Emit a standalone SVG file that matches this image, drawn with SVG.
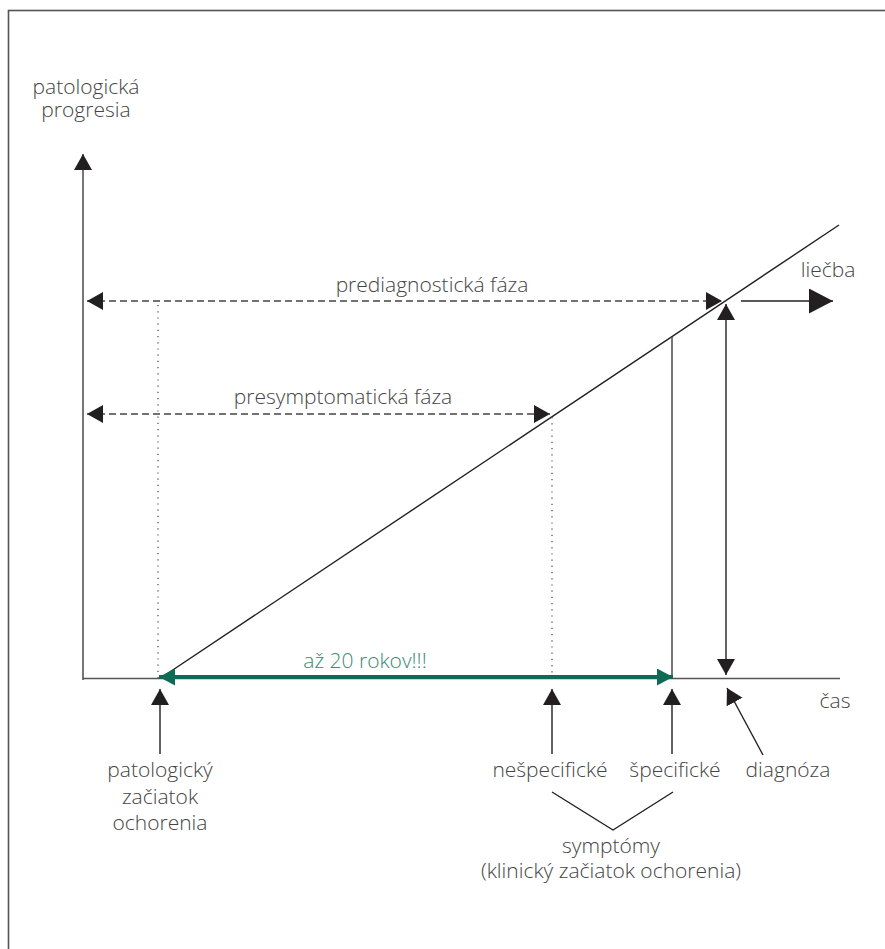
<svg xmlns="http://www.w3.org/2000/svg" width="885" height="949" viewBox="0 0 885 949">
<defs>
<style>
text{font-family:"Open Sans","Noto Sans","Liberation Sans",sans-serif;font-weight:300;font-size:21px;fill:#444}
.ax{stroke:#555;stroke-width:1.6;fill:none}
.ln{stroke:#231f20;stroke-width:1.4;fill:none}
.dash{stroke:#444;stroke-width:1.3;stroke-dasharray:7 4;fill:none}
.dot{stroke:#444;stroke-width:1.2;stroke-dasharray:1.2 5;fill:none}
.green{stroke:#0e6b55;stroke-width:4;fill:none}
</style>
<marker id="ah" markerUnits="userSpaceOnUse" markerWidth="18" markerHeight="20" refX="16" refY="9" orient="auto-start-reverse" viewBox="0 0 18 20"><path d="M0,0 L16,9 L0,18 z" fill="#231f20"/></marker>
<marker id="ahb" markerUnits="userSpaceOnUse" markerWidth="26" markerHeight="28" refX="24" refY="12.5" orient="auto" viewBox="0 0 26 28"><path d="M0,0 L24,12.5 L0,25 z" fill="#231f20"/></marker>
<marker id="ahg" markerUnits="userSpaceOnUse" markerWidth="18" markerHeight="20" refX="16" refY="8.5" orient="auto-start-reverse" viewBox="0 0 18 20"><path d="M0,0 L16,8.5 L0,17 z" fill="#0e6b55"/></marker>
</defs>
<rect x="8.5" y="10.5" width="900" height="1000" fill="#fff" stroke="#555" stroke-width="1.6"/>

<g id="connectors">
<line class="ax" x1="83" y1="680" x2="83" y2="154" marker-end="url(#ah)"/>
<line class="ax" x1="83" y1="678.5" x2="840" y2="678.5"/>
<line class="ln" x1="160" y1="678.5" x2="839" y2="225"/>
<line class="dot" x1="158" y1="305" x2="158" y2="678"/>
<line class="dot" x1="552" y1="417" x2="552" y2="678"/>
<line class="dash" x1="87" y1="301" x2="722" y2="301" marker-start="url(#ah)" marker-end="url(#ah)"/>
<line class="dash" x1="87" y1="414" x2="550" y2="414" marker-start="url(#ah)" marker-end="url(#ah)"/>
<line class="ax" x1="672" y1="337" x2="672" y2="678"/>
<line class="ln" x1="726" y1="304" x2="726" y2="675" marker-start="url(#ah)" marker-end="url(#ah)"/>
<line class="ln" x1="741" y1="301" x2="833" y2="301" marker-end="url(#ahb)"/>
<line class="green" x1="159" y1="677" x2="673" y2="677" marker-start="url(#ahg)" marker-end="url(#ahg)"/>
<line class="ln" x1="160" y1="754" x2="160" y2="689" marker-end="url(#ah)"/>
<line class="ln" x1="552" y1="754" x2="552" y2="689" marker-end="url(#ah)"/>
<line class="ln" x1="672" y1="754" x2="672" y2="689" marker-end="url(#ah)"/>
<line class="ln" x1="763" y1="755" x2="727" y2="688" marker-end="url(#ah)"/>
<polyline class="ln" points="552,792 613,830 673,792"/>
</g>

<g id="y-label"><text x="86" y="94" text-anchor="middle">patologická</text><text x="86" y="117" text-anchor="middle">progresia</text></g>
<g id="x-label"><text x="835" y="708" text-anchor="middle">čas</text></g>
<g id="prediag"><text x="432" y="292" text-anchor="middle">prediagnostická fáza</text></g>
<g id="presympt"><text x="343" y="404" text-anchor="middle">presymptomatická fáza</text></g>
<g id="liecba"><text x="828" y="277" text-anchor="middle">liečba</text></g>
<g id="duration"><text x="365" y="668" text-anchor="middle" style="fill:#3a8a74">až 20 rokov!!!</text></g>
<g id="onset"><text x="160" y="777" text-anchor="middle">patologický</text><text x="160" y="804" text-anchor="middle">začiatok</text><text x="160" y="830" text-anchor="middle">ochorenia</text></g>
<g id="nonspecific"><text x="550" y="777" text-anchor="middle">nešpecifické</text></g>
<g id="specific"><text x="675" y="777" text-anchor="middle">špecifické</text></g>
<g id="diagnosis"><text x="788" y="777" text-anchor="middle">diagnóza</text></g>
<g id="symptoms"><text x="611" y="853" text-anchor="middle">symptómy</text><text x="611" y="878" text-anchor="middle">(klinický začiatok ochorenia)</text></g>
</svg>
